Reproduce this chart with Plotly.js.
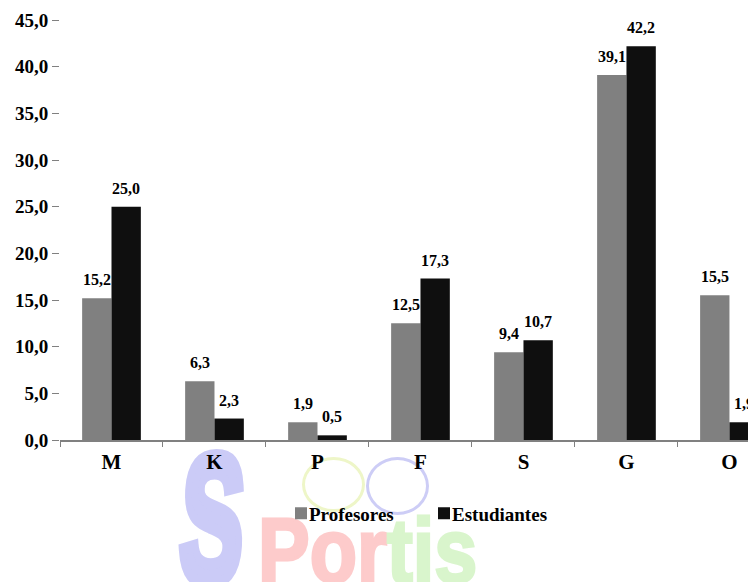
<!DOCTYPE html>
<html>
<head>
<meta charset="utf-8">
<script src="https://cdn.plot.ly/plotly-3.0.1.min.js"></script>
<style>
  html, body { margin:0; padding:0; background:#fff; overflow:hidden; }
  #wrap { position:relative; width:748px; height:582px; overflow:hidden; }
  #chart { position:absolute; left:0; top:0; width:748px; height:582px; }
  .wm { position:absolute; line-height:1; white-space:nowrap; font-family:"Liberation Sans", Arial, sans-serif; font-weight:bold; }
  .ring { position:absolute; border-radius:50%; box-sizing:border-box; }
</style>
</head>
<body>
<div id="wrap">
  <div class="wm" style="left:186px; top:428px; font-size:182px; color:#cbcbf7; -webkit-text-stroke:12px #cbcbf7; transform:scaleX(0.52) skewX(-6deg); transform-origin:left top;">S</div>
  <div class="ring" style="left:302px; top:457px; width:63px; height:55px; border:3px solid #eef6c8;"></div>
  <div class="ring" style="left:366px; top:457px; width:63px; height:58px; border:3px solid #cdcdf6;"></div>
  <div class="wm" style="left:258px; top:506px; font-size:90px; color:#fdcbcb; -webkit-text-stroke:3px #fdcbcb; transform:scaleX(0.86); transform-origin:left top;">Por<span style="color:#d9f5cc; -webkit-text-stroke:3px #d9f5cc;">tis</span></div>
  <div id="chart"></div>
</div>
<script>
const categories = ["M", "K", "P", "F", "S", "G", "O"];
const profesores = [15.2, 6.3, 1.9, 12.5, 9.4, 39.1, 15.5];
const estudiantes = [25.0, 2.3, 0.5, 17.3, 10.7, 42.2, 1.9];
const seriesNames = ["Profesores", "Estudiantes"];
const yTicks = [0, 5, 10, 15, 20, 25, 30, 35, 40, 45];

const serif = "Liberation Serif, Times New Roman, serif";
const fmt = v => v.toFixed(1).replace(".", ",");

function barTrace(name, values, color) {
  return {
    type: "bar",
    name: name,
    x: categories,
    y: values,
    marker: { color: color, line: { width: 0 } },
    hoverinfo: "skip"
  };
}

const data = [
  barTrace(seriesNames[0], profesores, "#808080"),
  barTrace(seriesNames[1], estudiantes, "#0f0f0f")
];

// value labels above each bar (offset half a bar width left/right of the category centre)
const halfBar = 14.7;
const labelFont = { family: serif, size: 16, color: "#000", weight: "bold" };
const annotations = [];
[profesores, estudiantes].forEach((vals, s) => {
  vals.forEach((v, i) => {
    annotations.push({
      x: categories[i], y: v, xref: "x", yref: "y",
      text: fmt(v), showarrow: false,
      xanchor: "center", yanchor: "bottom",
      xshift: s === 0 ? -halfBar : halfBar, yshift: 8,
      font: labelFont
    });
  });
});

const layout = {
  width: 748,
  height: 582,
  margin: { l: 60, r: 0, t: 20, b: 142, pad: 0 },
  paper_bgcolor: "rgba(0,0,0,0)",
  plot_bgcolor: "rgba(0,0,0,0)",
  separators: ",.",
  barmode: "group",
  bargap: 0.43,
  bargroupgap: 0,
  showlegend: true,
  annotations: annotations,
  xaxis: {
    type: "category",
    range: [-0.5, 6.18],
    showline: true,
    linecolor: "#808080",
    linewidth: 2,
    ticks: "outside",
    tickson: "boundaries",
    ticklen: 5,
    tickcolor: "#808080",
    tickwidth: 1,
    showgrid: false,
    zeroline: false,
    tickfont: { family: serif, size: 21, color: "#000", weight: "bold" },
    ticklabelstandoff: 2
  },
  yaxis: {
    range: [0, 45],
    tickvals: yTicks,
    ticktext: yTicks.map(fmt),
    showline: false,
    showgrid: false,
    zeroline: false,
    ticks: "outside",
    ticklen: 7,
    tickcolor: "#808080",
    tickwidth: 1,
    tickfont: { family: serif, size: 19, color: "#000", weight: "bold" }
  },
  legend: {
    orientation: "h",
    x: (281 - 60) / 688,
    xanchor: "left",
    y: -0.175,
    yanchor: "middle",
    bgcolor: "rgba(0,0,0,0)",
    font: { family: serif, size: 19, color: "#000", weight: "bold" },
    itemwidth: 30,
    entrywidth: 98,
    entrywidthmode: "pixels"
  }
};

Plotly.newPlot("chart", data, layout, { displayModeBar: false, staticPlot: true }).then(gd => {
  // tighten the gap between legend swatch and its label, as in the original
  gd.querySelectorAll(".legendtext").forEach(t => t.setAttribute("x", "28"));
});
</script>
</body>
</html>
